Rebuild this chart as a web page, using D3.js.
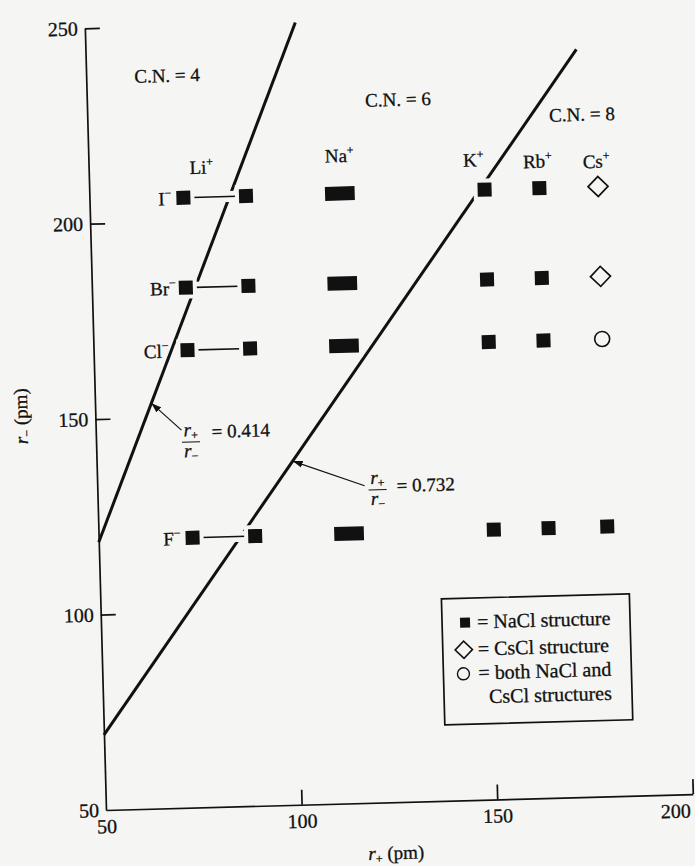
<!DOCTYPE html>
<html>
<head>
<meta charset="utf-8">
<script src="https://cdn.jsdelivr.net/npm/d3@7"></script>
<style>
  body { margin: 0; background: #f5f5f3; }
  svg { display: block; font-family: "Liberation Serif", "Times New Roman", serif; }
  svg text { stroke: #111; stroke-width: 0.3; }
</style>
</head>
<body>
<svg id="chart" width="695" height="866"></svg>
<script>
// ionic radii in pm
var cationNames = ['Li', 'Na', 'K', 'Rb', 'Cs'];
var cationRadii = [[74, 90], [112, 116], [151], [165], [180]];
var anionNames = ['F', 'Cl', 'Br', 'I'];
var anionRadii = [119, 167, 183, 206];

// structure of each salt, rows = anions, columns = cations
var structures = [
  ['NaCl', 'NaCl', 'NaCl', 'NaCl', 'NaCl'],
  ['NaCl', 'NaCl', 'NaCl', 'NaCl', 'both'],
  ['NaCl', 'NaCl', 'NaCl', 'NaCl', 'CsCl'],
  ['NaCl', 'NaCl', 'NaCl', 'NaCl', 'CsCl']
];

// radius ratio boundaries, as drawn: [r+, r-] end points
var ratioValues = ['0.414', '0.732'];
var ratioLines = [
  [[50, 118.5], [103.8, 250]],
  [[50, 69.2], [175.4, 241.2]]
];

var regionLabels = ['C.N. = 4', 'C.N. = 6', 'C.N. = 8'];
var xTicks = [50, 100, 150, 200];
var yTicks = [50, 100, 150, 200, 250];
var legendKinds = ['NaCl', 'CsCl', 'both'];
var legendTexts = [['= NaCl structure'], ['= CsCl structure'], ['= both NaCl and', 'CsCl structures']];

// ---- layout (where the labels sit, in data units / px gaps) ----
var regionPos = [[62.3, 235.7], [121.1, 228], [168, 222.9]];
var cationLabelPos = [[78.8, 212], [114.1, 214], [148.3, 212], [164.7, 211.2], [179.7, 210.8]];
var anionLabelGap = [5, 12, 3, 5];
var fractionPos = [[74.25, 143.5], [121.6, 130]];
var valuePos = [[79.6, 144.4], [126.5, 129.3]];
var arrowFrom = [[71.9, 146.6], [118.3, 131.1]];
var arrowTip = [64.4, 100.1];   // r+ where the arrow touches its line

var bg = '#f5f5f3';
var svg = d3.select('#chart');
svg.append('rect').attr('width', 695).attr('height', 866).attr('fill', bg);

svg.append('defs').append('marker')
  .attr('id', 'head')
  .attr('viewBox', '0 -4 10 8')
  .attr('refX', 10).attr('refY', 0)
  .attr('markerWidth', 10).attr('markerHeight', 8)
  .attr('markerUnits', 'userSpaceOnUse')
  .attr('orient', 'auto')
  .append('path').attr('d', 'M0,-3.5L10,0L0,3.5Z').attr('fill', '#111');

// the printed figure sits slightly askew on the page
var g = svg.append('g').attr('transform', 'rotate(-1.55,106,810)');

var x = d3.scaleLinear().domain([50, 200]).range([106, 693]);
var y = d3.scaleLinear().domain([50, 250]).range([810, 28]);

// axes
var ya = g.append('g')
  .attr('transform', 'translate(' + x(50) + ',0)')
  .call(d3.axisLeft(y).tickValues(yTicks).tickSizeInner(-15).tickSizeOuter(0).tickPadding(7));
var xa = g.append('g')
  .attr('transform', 'translate(0,' + y(50) + ')')
  .call(d3.axisBottom(x).tickValues(xTicks).tickSizeInner(-15).tickSizeOuter(0).tickPadding(9));

[ya, xa].forEach(function(a) {
  a.attr('font-family', null).attr('font-size', 20);
  a.selectAll('.domain, .tick line').attr('stroke', '#111').attr('stroke-width', 1.7);
  a.selectAll('.tick text').attr('fill', '#111');
  a.selectAll('.tick').filter(function(d) { return d === 50; }).select('line').remove();
});
// last x label sits inside the end of the axis
xa.selectAll('.tick').filter(function(d) { return d === 200; }).select('text')
  .attr('text-anchor', 'end').attr('dx', -3);

// ratio lines
var line = d3.line().x(function(d) { return x(d[0]); }).y(function(d) { return y(d[1]); });
g.selectAll('.ratio')
  .data(ratioLines)
  .enter().append('path')
  .attr('class', 'ratio')
  .attr('d', line)
  .attr('fill', 'none')
  .attr('stroke', '#111')
  .attr('stroke-width', 3);

function onLine(pts, r) {
  var t = (r - pts[0][0]) / (pts[1][0] - pts[0][0]);
  return pts[0][1] + t * (pts[1][1] - pts[0][1]);
}

// arrows and ratio labels
ratioValues.forEach(function(v, i) {
  var tipY = onLine(ratioLines[i], arrowTip[i]);
  g.append('line')
    .attr('x1', x(arrowFrom[i][0])).attr('y1', y(arrowFrom[i][1]))
    .attr('x2', x(arrowTip[i])).attr('y2', y(tipY))
    .attr('stroke', '#111').attr('stroke-width', 1.2)
    .attr('marker-end', 'url(#head)');

  var f = g.append('g')
    .attr('transform', 'translate(' + x(fractionPos[i][0]) + ',' + y(fractionPos[i][1]) + ')')
    .attr('font-size', 19).attr('fill', '#111');
  var num = f.append('text').attr('y', -6).attr('text-anchor', 'middle');
  num.append('tspan').attr('font-style', 'italic').text('r');
  num.append('tspan').attr('font-size', 12).attr('dy', 3).text('+');
  f.append('line').attr('x1', -9).attr('x2', 9)
    .attr('stroke', '#111').attr('stroke-width', 1.2);
  var den = f.append('text').attr('y', 15).attr('text-anchor', 'middle');
  den.append('tspan').attr('font-style', 'italic').text('r');
  den.append('tspan').attr('font-size', 12).attr('dy', 3).text('−');

  g.append('text')
    .attr('x', x(valuePos[i][0])).attr('y', y(valuePos[i][1]))
    .attr('font-size', 19).attr('fill', '#111')
    .text('= ' + v);
});

// tie lines between the two Li radii
anionRadii.forEach(function(a, row) {
  cationRadii.forEach(function(r, col) {
    if (r.length < 2 || x(r[1]) - x(r[0]) < 20) return;
    [[bg, 11], ['#111', 1.6]].forEach(function(s) {
      g.append('line')
        .attr('x1', x(r[0])).attr('x2', x(r[1]))
        .attr('y1', y(a)).attr('y2', y(a))
        .attr('stroke', s[0]).attr('stroke-width', s[1]);
    });
  });
});

// markers
var S = 14;
var diamond = d3.symbol().type(d3.symbolSquare).size(200);
anionRadii.forEach(function(a, row) {
  cationRadii.forEach(function(r, col) {
    var kind = structures[row][col];
    var cx = x(r[r.length - 1]);
    if (kind === 'NaCl') {
      var pieces = (r.length > 1 && x(r[1]) - x(r[0]) >= 20) ? [[r[0], r[0]], [r[1], r[1]]] : [[r[0], r[r.length - 1]]];
      pieces.forEach(function(p) {
        g.append('rect')
          .attr('x', x(p[0]) - S / 2).attr('y', y(a) - S / 2)
          .attr('width', x(p[1]) - x(p[0]) + S).attr('height', S)
          .attr('fill', '#111').attr('stroke', bg).attr('stroke-width', 8)
          .attr('paint-order', 'stroke');
      });
    } else if (kind === 'CsCl') {
      g.append('path')
        .attr('d', diamond())
        .attr('transform', 'translate(' + cx + ',' + y(a) + ') rotate(45)')
        .attr('fill', bg).attr('stroke', '#111').attr('stroke-width', 1.7);
    } else {
      g.append('circle')
        .attr('cx', cx).attr('cy', y(a)).attr('r', 7.5)
        .attr('fill', bg).attr('stroke', '#111').attr('stroke-width', 1.6);
    }
  });
});

// anion labels
anionNames.forEach(function(n, row) {
  var t = g.append('text')
    .attr('x', x(cationRadii[0][0]) - S / 2 - anionLabelGap[row])
    .attr('y', y(anionRadii[row]) + 7)
    .attr('text-anchor', 'end')
    .attr('font-size', 19).attr('fill', '#111');
  t.append('tspan').text(n);
  t.append('tspan').attr('font-size', 12).attr('dy', -8).text('−');
});

// cation labels
cationNames.forEach(function(n, col) {
  var t = g.append('text')
    .attr('x', x(cationLabelPos[col][0]))
    .attr('y', y(cationLabelPos[col][1]))
    .attr('text-anchor', 'middle')
    .attr('font-size', 19).attr('fill', '#111');
  t.append('tspan').text(n);
  t.append('tspan').attr('font-size', 12).attr('dy', -8).text('+');
});

// coordination number regions
regionLabels.forEach(function(s, i) {
  g.append('text')
    .attr('x', x(regionPos[i][0])).attr('y', y(regionPos[i][1]))
    .attr('font-size', 19).attr('fill', '#111')
    .text(s);
});

// axis titles
var yt = g.append('text')
  .attr('transform', 'translate(38,414) rotate(-90)')
  .attr('text-anchor', 'middle')
  .attr('font-size', 19).attr('fill', '#111');
yt.append('tspan').attr('font-style', 'italic').text('r');
yt.append('tspan').attr('font-size', 12).attr('dy', 3).text('−');
yt.append('tspan').attr('dy', -3).text(' (pm)');

var xt = g.append('text')
  .attr('x', 395).attr('y', 867)
  .attr('text-anchor', 'middle')
  .attr('font-size', 19).attr('fill', '#111');
xt.append('tspan').attr('font-style', 'italic').text('r');
xt.append('tspan').attr('font-size', 12).attr('dy', 3).text('+');
xt.append('tspan').attr('dy', -3).text(' (pm)');

// legend
var lg = g.append('g');
lg.append('rect')
  .attr('x', 447).attr('y', 608).attr('width', 188).attr('height', 126)
  .attr('fill', 'none').attr('stroke', '#111').attr('stroke-width', 1.7);
var rowY = [632.5, 659.5, 683.5];
var legendDiamond = d3.symbol().type(d3.symbolSquare).size(150);
legendKinds.forEach(function(k, i) {
  if (k === 'NaCl') {
    lg.append('rect').attr('x', 465).attr('y', rowY[i] - 5).attr('width', 10).attr('height', 10).attr('fill', '#111');
  } else if (k === 'CsCl') {
    lg.append('path').attr('d', legendDiamond())
      .attr('transform', 'translate(468,' + rowY[i] + ') rotate(45)')
      .attr('fill', 'none').attr('stroke', '#111').attr('stroke-width', 1.6);
  } else {
    lg.append('circle').attr('cx', 467).attr('cy', rowY[i]).attr('r', 6)
      .attr('fill', 'none').attr('stroke', '#111').attr('stroke-width', 1.4);
  }
  legendTexts[i].forEach(function(s, j) {
    lg.append('text')
      .attr('x', j ? 492 : 482)
      .attr('y', rowY[i] + 6 + j * 24)
      .attr('font-size', 20).attr('fill', '#111')
      .text(s);
  });
});
</script>
</body>
</html>
